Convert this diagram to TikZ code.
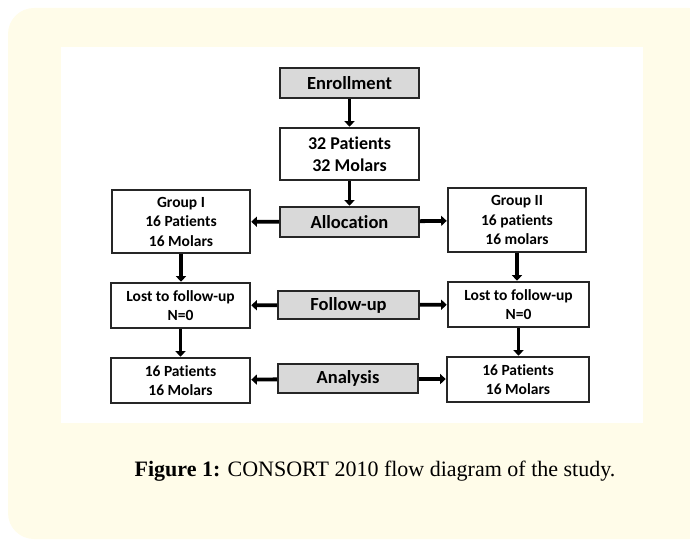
\documentclass[tikz,border=0pt]{standalone}
\usepackage{fontspec}
\setmainfont{Liberation Serif}
\newfontfamily\boxfont[RawFeature=-liga]{Carlito}
\usetikzlibrary{arrows.meta}
\definecolor{cream}{RGB}{255,252,233}
\definecolor{stagegray}{RGB}{217,217,217}

\begin{document}
\begin{tikzpicture}[x=1pt, y=-1pt,
    every node/.style={draw=black!85, line width=1.6pt, fill=white, inner sep=0pt,
                       align=center, font=\boxfont\bfseries\fontsize{15.5}{19.5}\selectfont},
    stage/.style={fill=stagegray, font=\boxfont\bfseries\fontsize{18.5}{20}\selectfont},
    flow/.style={line width=3.8pt, -{Triangle[length=5.5pt, width=10pt]}, shorten >=0.5pt}]
  \useasboundingbox (0,0) rectangle (690,540);
  % Page background
  \begin{scope}
    \clip (0,0) rectangle (690,540);
    \fill[cream, rounded corners=26pt] (8,8) rectangle (715,539);
    \fill[white] (61,47) rectangle (643,423);
  \end{scope}

  % Stages in the middle
  \node[stage, minimum width=139pt, minimum height=30pt] (enrol) at (349.5,83) {Enrollment};
  \node[minimum width=139pt, minimum height=52pt,
        font=\boxfont\bfseries\fontsize{18}{22}\selectfont] (total) at (349.5,154)
        {32 Patients\\32 Molars};
  \node[stage, minimum width=139pt, minimum height=30pt] (alloc) at (349.5,222) {Allocation};
  \node[stage, minimum width=141pt, minimum height=28pt] (follow) at (348.5,305) {Follow-up};
  \node[stage, minimum width=140pt, minimum height=29pt] (anal) at (348,378.5) {Analysis};

  % Group I
  \node[minimum width=138pt, minimum height=63pt] (g1) at (181,221.5)
        {Group I\\16 Patients\\16 Molars};
  \node[minimum width=139pt, minimum height=45pt] (lost1) at (180.5,305.5)
        {Lost to follow-up\\N=0};
  \node[minimum width=139pt, minimum height=45pt] (res1) at (180.5,380.5)
        {16 Patients\\16 Molars};

  % Group II
  \node[minimum width=138pt, minimum height=64pt] (g2) at (517,220)
        {Group II\\16 patients\\16 molars};
  \node[minimum width=141pt, minimum height=45pt] (lost2) at (518.5,304.5)
        {Lost to follow-up\\N=0};
  \node[minimum width=142pt, minimum height=45pt] (res2) at (518,379.5)
        {16 Patients\\16 Molars};

  % Arrows
  \draw[flow] (enrol) -- (total);
  \draw[flow] (total) -- (alloc);
  \draw[flow] (alloc) -- (g1);   \draw[flow] (alloc) -- (g2);
  \draw[flow] (follow) -- (lost1); \draw[flow] (follow) -- (lost2);
  \draw[flow] (anal) -- (res1);  \draw[flow] (anal) -- (res2);
  \draw[flow] (g1.south) -- (lost1.north -| g1.south);
  \draw[flow] (lost1.south) -- (res1.north -| lost1.south);
  \draw[flow] (g2.south) -- (lost2.north -| g2.south);
  \draw[flow] (lost2.south) -- (res2.north -| lost2.south);

  % Caption
  \node[draw=none, fill=none, font=\fontsize{22}{26}\selectfont] (caption) at (375,471)
        {\textbf{Figure 1:} CONSORT 2010 flow diagram of the study.};
\end{tikzpicture}
\end{document}
